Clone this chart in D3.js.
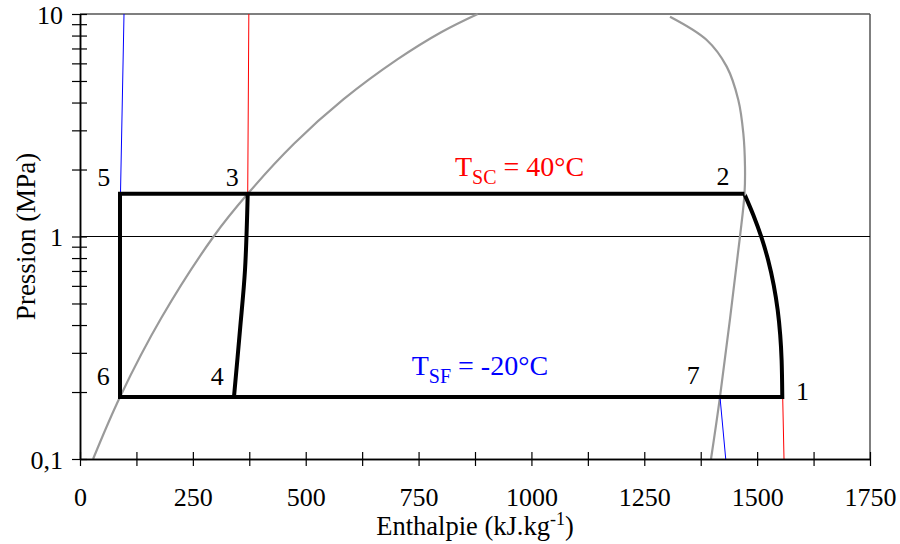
<!DOCTYPE html>
<html><head><meta charset="utf-8">
<script src="https://cdn.jsdelivr.net/npm/d3@7"></script>
<style>
html,body{margin:0;padding:0;background:#fff;}
</style></head>
<body>
<svg id="chart" width="900" height="544"></svg>
<script>
// ---- data ----
const xTicksMajor = [0, 250, 500, 750, 1000, 1250, 1500, 1750];
const xTicksMinor = [125, 375, 625, 875, 1125, 1375, 1625];
const yTicks = [0.1,0.2,0.3,0.4,0.5,0.6,0.7,0.8,0.9,1,2,3,4,5,6,7,8,9,10];
const yTickLabels = {"0.1":"0,1","1":"1","10":"10"};

// saturation curves (h kJ/kg, P MPa)
const satLiquidH = [29, 88.6, 180, 296, 371.5, 474, 584, 703, 800, 881];
const satLiquidP = [0.1, 0.19, 0.43, 1.0, 1.555, 2.61, 4.14, 6.25, 8.28, 10];
const satVaporH = [1397.8, 1417.7, 1462, 1472, 1473.1, 1469.4, 1458.3, 1432.6, 1388.3, 1307];
const satVaporP = [0.1, 0.19, 1.0, 1.555, 2.06, 2.91, 4.11, 5.80, 7.64, 9.72];

// cycle
const pLow = 0.19, pHigh = 1.555;
const h1 = 1555.7, h2 = 1471.6, h5 = 88.6, h6 = 88.6;
const comprH = [1471.6, 1491.5, 1509.2, 1524.3, 1536.7, 1545.5, 1551.1, 1554.2, 1555.7];
const comprP = [1.555, 1.249, 0.995, 0.784, 0.605, 0.4674, 0.3608, 0.2786, 0.19];
const expH = [371.5, 365.5, 354.4, 341.1];
const expP = [1.555, 0.707, 0.380, 0.19];

// isotherms
const isoBlueLeftH = [89.7, 97.5], isoBlueLeftP = [1.555, 10];
const isoRedLeftH = [371.5, 374], isoRedLeftP = [1.555, 10];
const isoBlueRightH = [1417.7, 1430.4], isoBlueRightP = [0.19, 0.1];
const isoRedRightH = [1556.6, 1559.5], isoRedRightP = [0.19, 0.1];

const pointLabels = ["1","2","3","4","5","6","7"];
const pointLabelH = [1586, 1410, 323, 289.5, 38.3, 37, 1344];
const pointLabelP = [0.1841, 1.705, 1.687, 0.2151, 1.687, 0.2151, 0.2173];

// ---- chart ----
const svg = d3.select("#chart");
const L = 80, R = 870, T = 14, B = 459;
const FONT = "Liberation Serif";
const x = d3.scaleLinear().domain([0, 1750]).range([L, R]);
const y = d3.scaleLog().domain([0.1, 10]).range([B, T]);
const zip = (H, P) => H.map((h, i) => ({h, p: P[i]}));
const lineLin = d3.line().x(d => x(d.h)).y(d => y(d.p));
const lineCR = d3.line().x(d => x(d.h)).y(d => y(d.p)).curve(d3.curveCatmullRom.alpha(0.5));

// frame top/right
svg.append("line").attr("x1", L).attr("x2", R).attr("y1", T).attr("y2", T).attr("stroke", "#555").attr("stroke-width", 1.5);
svg.append("line").attr("x1", R).attr("x2", R).attr("y1", T).attr("y2", B).attr("stroke", "#555").attr("stroke-width", 1.5);
// gridline at 1 MPa
svg.append("line").attr("x1", L).attr("x2", R).attr("y1", y(1)).attr("y2", y(1)).attr("stroke", "#000").attr("stroke-width", 1);

// saturation dome
svg.append("path").attr("d", lineCR(zip(satLiquidH, satLiquidP))).attr("fill", "none").attr("stroke", "#9a9a9a").attr("stroke-width", 2.2);
svg.append("path").attr("d", lineCR(zip(satVaporH, satVaporP))).attr("fill", "none").attr("stroke", "#9a9a9a").attr("stroke-width", 2.2);

// isotherms
[[isoBlueLeftH, isoBlueLeftP, "#0000ff"], [isoRedLeftH, isoRedLeftP, "#ff0000"],
 [isoBlueRightH, isoBlueRightP, "#0000ff"], [isoRedRightH, isoRedRightP, "#ff0000"]].forEach(([H, P, c]) => {
  svg.append("path").attr("d", lineLin(zip(H, P))).attr("fill", "none").attr("stroke", c).attr("stroke-width", 1);
});

// cycle
const comprPath = lineCR(zip(comprH, comprP)).replace(/^M[^CL]*/, "");
const outline = `M${x(h6)},${y(pLow)}L${x(h5)},${y(pHigh)}L${x(h2)},${y(pHigh)}` + comprPath + `L${x(h6)},${y(pLow)}Z`;
svg.append("path").attr("d", outline).attr("fill", "none").attr("stroke", "#000").attr("stroke-width", 4).attr("stroke-linejoin", "miter");
svg.append("path").attr("d", lineCR(zip(expH, expP))).attr("fill", "none").attr("stroke", "#000").attr("stroke-width", 4);

// axes
const xAll = xTicksMajor.concat(xTicksMinor);
const gxo = svg.append("g").attr("transform", `translate(0,${B})`)
  .call(d3.axisBottom(x).tickValues(xAll).tickSize(7).tickSizeOuter(0).tickFormat(d => xTicksMajor.includes(d) ? d3.format("d")(d) : ""));
const gxi = svg.append("g").attr("transform", `translate(0,${B})`)
  .call(d3.axisTop(x).tickValues(xAll).tickSize(7).tickSizeOuter(0).tickFormat(""));
const gyo = svg.append("g").attr("transform", `translate(${L},0)`)
  .call(d3.axisLeft(y).tickValues(yTicks).tickSize(8).tickSizeOuter(0).tickFormat(d => yTickLabels[String(d)] || ""));
const gyi = svg.append("g").attr("transform", `translate(${L},0)`)
  .call(d3.axisRight(y).tickValues(yTicks).tickSize(7).tickSizeOuter(0).tickFormat(""));
[gxo, gxi, gyo, gyi].forEach(g => {
  g.attr("font-family", FONT);
  g.selectAll(".domain").attr("stroke", "#000").attr("stroke-width", 1.5);
  g.selectAll(".tick line").attr("stroke", "#000").attr("stroke-width", 1.2);
});
gxo.selectAll(".tick text").attr("font-size", 26).attr("fill", "#000").attr("y", 47).attr("dy", 0);
gyo.selectAll(".tick text").attr("font-size", 26).attr("fill", "#000").attr("x", -17).attr("dy", 9);

// axis titles
const xt = svg.append("text").attr("x", (L + R) / 2).attr("y", 535).attr("text-anchor", "middle")
  .attr("font-family", FONT).attr("font-size", 26.5).attr("fill", "#000");
xt.append("tspan").text("Enthalpie (kJ.kg");
xt.append("tspan").attr("dy", -10).attr("font-size", 18).text("-1");
xt.append("tspan").attr("dy", 10).text(")");
svg.append("text").attr("transform", `translate(35,${(T + B) / 2}) rotate(-90)`).attr("text-anchor", "middle")
  .attr("font-family", FONT).attr("font-size", 27).attr("fill", "#000").text("Pression (MPa)");

// point labels
svg.selectAll(".pl").data(pointLabels).join("text").attr("class", "pl")
  .attr("x", (d, i) => x(pointLabelH[i]))
  .attr("y", (d, i) => y(pointLabelP[i]))
  .attr("font-family", FONT).attr("font-size", 26).attr("fill", "#000").text(d => d);

// temperature labels
function tLabel(xh, pp, off, sub, rest, color) {
  const t = svg.append("text").attr("x", x(xh)).attr("y", y(pp) - off)
    .attr("font-family", FONT).attr("font-size", 28).attr("fill", color);
  t.append("tspan").text("T");
  t.append("tspan").attr("dy", 8).attr("font-size", 20).text(sub);
  t.append("tspan").attr("dy", -8).text(rest);
}
tLabel(830.7, pHigh, 18.3, "SC", " = 40°C", "#ff0000");
tLabel(734.8, pLow, 21.7, "SF", " = -20°C", "#0000ff");
</script>
</body></html>
